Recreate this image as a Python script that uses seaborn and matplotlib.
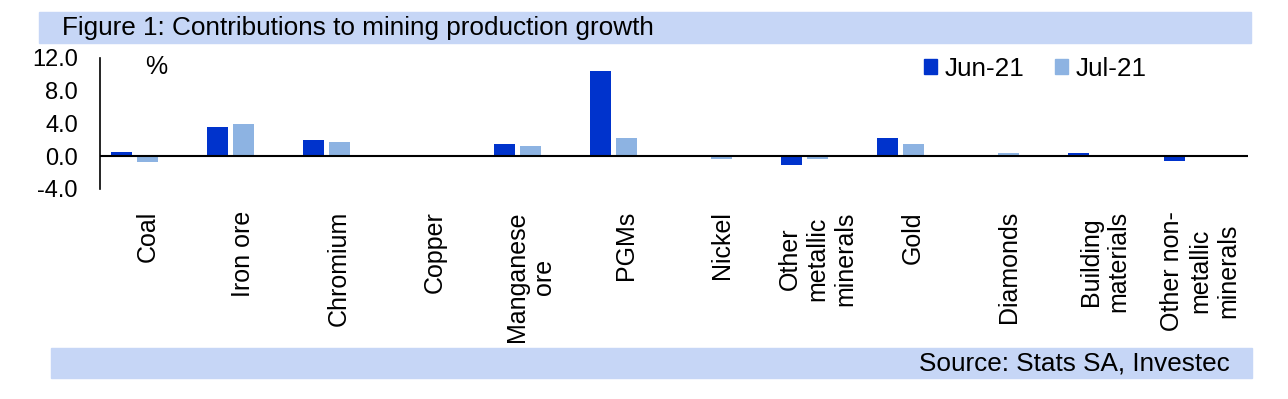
import pandas as pd
import seaborn as sns
from matplotlib import pyplot as plt
from matplotlib.patches import Rectangle, Patch

categories = ["Coal", "Iron ore", "Chromium", "Copper", "Manganese\nore", "PGMs",
              "Nickel", "Other\nmetallic\nminerals", "Gold", "Diamonds",
              "Building\nmaterials", "Other non-\nmetallic\nminerals"]
jun_21 = [0.5, 3.6, 1.95, -0.05, 1.45, 10.45, -0.05, -1.1, 2.25, 0.0, 0.45, -0.6]
jul_21 = [-0.7, 3.9, 1.7, 0.0, 1.25, 2.25, -0.3, -0.3, 1.55, 0.45, 0.05, 0.0]
series = ["Jun-21", "Jul-21", " "]
y_ticks = [-4, 0, 4, 8, 12]

colors = {"Jun-21": "#0033cc", "Jul-21": "#8db3e2", " ": "white"}
band = "#c6d6f6"

# long table; third (empty) series reproduces the Excel bar offsets
df = pd.DataFrame({
    "category": categories * 3,
    "series": ["Jun-21"] * 12 + ["Jul-21"] * 12 + [" "] * 12,
    "value": jun_21 + jul_21 + [0.0] * 12,
})

sns.set_style("white")
plt.rcParams["font.family"] = ["Liberation Sans", "DejaVu Sans"]
plt.rcParams["text.color"] = "black"
plt.rcParams["xtick.color"] = "black"
plt.rcParams["ytick.color"] = "black"

fig = plt.figure(figsize=(12.88, 3.99), dpi=100)
ax = fig.add_axes([100 / 1288, 1 - 189 / 399, 1148 / 1288, 131 / 399])

sns.barplot(data=df, x="category", y="value", hue="series", hue_order=series,
            order=categories, palette=colors, width=0.816, gap=0.19,
            saturation=1, errorbar=None, legend=False, ax=ax, linewidth=0)

ax.set_xlim(-0.5, 11.5)
ax.set_ylim(-4, 12)
ax.set_yticks(y_ticks)
ax.set_yticklabels(["%.1f" % t for t in y_ticks])
ax.set_xlabel("")
ax.set_ylabel("")
ax.axhline(0, color="black", lw=1.5, zorder=5)
for s in ("top", "right", "bottom"):
    ax.spines[s].set_visible(False)
ax.spines["left"].set_color("black")
ax.spines["left"].set_linewidth(1.2)
ax.tick_params(axis="y", length=0, pad=16, labelsize=17, labelcolor="black")
ax.tick_params(axis="x", length=0, pad=16, labelsize=18, labelcolor="black")
for lab in ax.get_xticklabels():
    lab.set_rotation(90)
    lab.set_va("top")
    lab.set_ha("center")
    lab.set_multialignment("center")

# header and footer bands
fig.patches.append(Rectangle((39 / 1288, 1 - 43 / 399), 1212 / 1288, 31 / 399,
                             transform=fig.transFigure, color=band, zorder=0))
fig.patches.append(Rectangle((51 / 1288, 1 - 378 / 399), 1201 / 1288, 30 / 399,
                             transform=fig.transFigure, color=band, zorder=0))
fig.text(62 / 1288, 1 - 28 / 399, "Figure 1: Contributions to mining production growth",
         fontsize=18.8, va="center", ha="left")
fig.text(1230 / 1288, 1 - 363 / 399, "Source: Stats SA, Investec",
         fontsize=18.8, va="center", ha="right")
fig.text(145 / 1288, 1 - 67 / 399, "%", fontsize=18, va="center", ha="left")

handles = [Patch(color=colors[s], label=s) for s in series[:2]]
fig.legend(handles=handles, loc="center left", ncol=2, frameon=False,
           bbox_to_anchor=(924 / 1288, 1 - 69 / 399), fontsize=18.8,
           handlelength=0.5, handleheight=0.5, handletextpad=0.3,
           columnspacing=1.15, borderpad=0, borderaxespad=0)

fig.savefig("out.png", dpi=100)
